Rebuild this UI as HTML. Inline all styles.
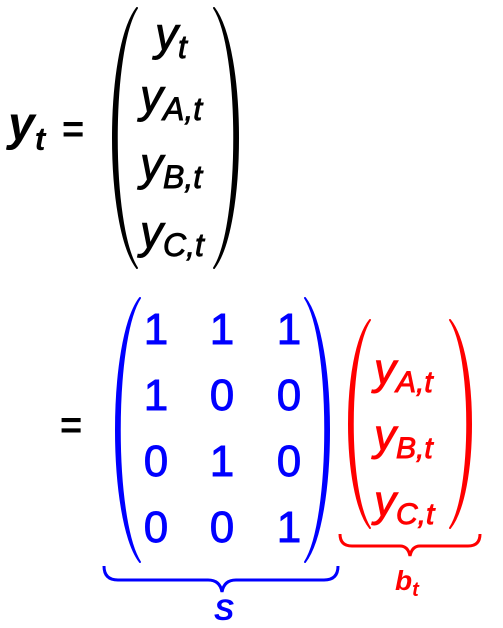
<!DOCTYPE html>
<html><head><meta charset="utf-8"><style>
html,body{margin:0;padding:0;background:#fff;}
svg{display:block;}
text{font-family:"Liberation Sans","DejaVu Sans",sans-serif;}
.i{font-style:italic;}
.m{stroke-width:0.9;}
</style></head><body>
<svg width="503" height="628" viewBox="0 0 503 628">
<text x="8" y="140" font-size="48" font-weight="bold" class="i">y<tspan font-size="32" dy="10">t</tspan></text>
<text x="62" y="142" font-size="38" font-weight="bold">=</text>
<path d="M137,8 C105,50 105,226 137,268 C110,226 110,50 137,8 Z" fill="#000" stroke="#000" stroke-width="2" stroke-linejoin="round"/>
<path d="M214,8 C246,50 246,226 214,268 C241,226 241,50 214,8 Z" fill="#000" stroke="#000" stroke-width="2" stroke-linejoin="round"/>
<g font-size="46" class="i m" fill="#000" stroke="#000">
<text x="155" y="50">y<tspan font-size="32" dy="8">t</tspan></text>
<text x="140" y="112">y<tspan font-size="32" dy="8">A,t</tspan></text>
<text x="140" y="180">y<tspan font-size="32" dy="8">B,t</tspan></text>
<text x="140" y="248">y<tspan font-size="32" dy="8">C,t</tspan></text>
</g>
<text x="60" y="438" font-size="38" font-weight="bold">=</text>
<path d="M140,298 C108,340 108,520 140,562 C113,520 113,340 140,298 Z" fill="#0000ff" stroke="#0000ff" stroke-width="2" stroke-linejoin="round"/>
<path d="M305,298 C337,340 337,520 305,562 C332,520 332,340 305,298 Z" fill="#0000ff" stroke="#0000ff" stroke-width="2" stroke-linejoin="round"/>
<g font-size="44" fill="#0000ff" stroke="#0000ff" class="m" text-anchor="middle">
<text x="156" y="344">1</text><text x="222" y="344">1</text><text x="289" y="344">1</text>
<text x="156" y="410">1</text><text x="222" y="410">0</text><text x="289" y="410">0</text>
<text x="156" y="476">0</text><text x="222" y="476">1</text><text x="289" y="476">0</text>
<text x="156" y="542">0</text><text x="222" y="542">0</text><text x="289" y="542">1</text>
</g>
<path d="M104,566 Q104,580 118,580 L208,580 Q220,580 222,592 Q224,580 236,580 L324,580 Q338,580 338,566" fill="none" stroke="#0000ff" stroke-width="3"/>
<text x="214" y="620" font-size="30" font-weight="bold" class="i" fill="#0000ff">S</text>
<path d="M370,320 C342,355 342,493 370,528 C347,493 347,355 370,320 Z" fill="#ff0000" stroke="#ff0000" stroke-width="2" stroke-linejoin="round"/>
<path d="M450,320 C478,355 478,493 450,528 C473,493 473,355 450,320 Z" fill="#ff0000" stroke="#ff0000" stroke-width="2" stroke-linejoin="round"/>
<g font-size="44" class="i m" fill="#ff0000" stroke="#ff0000">
<text x="374" y="384">y<tspan font-size="30" dy="8">A,t</tspan></text>
<text x="374" y="450">y<tspan font-size="30" dy="8">B,t</tspan></text>
<text x="374" y="516">y<tspan font-size="30" dy="8">C,t</tspan></text>
</g>
<path d="M340,534 Q340,546 352,546 L400,546 Q408,546 410,556 Q412,546 420,546 L468,546 Q480,546 480,534" fill="none" stroke="#ff0000" stroke-width="3"/>
<text x="395" y="590" font-size="28" font-weight="bold" class="i" fill="#ff0000">b<tspan font-size="20" dy="6">t</tspan></text>
</svg>
</body></html>
